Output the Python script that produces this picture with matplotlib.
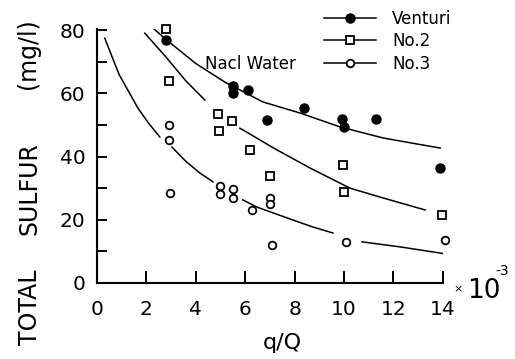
import numpy as np
import matplotlib
matplotlib.use('Agg')
import matplotlib.pyplot as plt
from matplotlib.lines import Line2D

# measured points (q/Q in 1e-3, total sulfur mg/l)
venturi_x = [2.8, 5.5, 5.5, 6.1, 6.9, 8.4, 9.9, 10.0, 11.3, 13.9]
venturi_y = [77, 62.5, 60, 61, 51.5, 55.5, 52, 49.5, 52, 36.5]

no2_x = [2.8, 2.9, 4.9, 4.95, 5.45, 6.2, 7.0, 9.95, 10.0, 13.95]
no2_y = [80.5, 64, 53.5, 48, 51.3, 42, 33.7, 37.3, 28.8, 21.5]

no3_x = [2.9, 2.9, 2.95, 4.98, 4.98, 5.5, 5.5, 6.28, 7.0, 7.0, 7.1, 10.1, 14.1]
no3_y = [50, 45.3, 28.5, 30.7, 28.2, 29.7, 26.9, 23.1, 26.9, 25, 12, 13, 13.6]

# fitted curves as drawn (NaN = gap in the line)
curve1_x = [1.86, 2.83, 4.0, 5.18, 6.72, 8.22, 9.84, 11.58, 13.89]
curve1_y = [83.5, 76.9, 69.5, 63.6, 57.3, 53.8, 49.4, 45.9, 42.7]

curve2_x = [1.94, 2.8, 3.6, 4.37, np.nan, 5.79, 7.2, 8.62, 9.43, 10.24, 11.58, 13.28]
curve2_y = [79.1, 71.5, 64.0, 57.9, np.nan, 49.0, 42.5, 36.4, 33.2, 30.0, 26.9, 23.1]

curve3_x = [0.32, 0.9, 1.66, 2.1, 2.55, np.nan, 3.04, 3.6, 4.17, 4.7, np.nan,
            5.9, 6.48, 7.94, 8.7, 9.55, np.nan, 10.73, 12.27, 14.1]
curve3_y = [77.5, 66.0, 55.4, 50.5, 46.2, np.nan, 43.0, 38.5, 34.8, 32.0, np.nan,
            26.3, 24.0, 19.9, 17.8, 15.8, np.nan, 13.0, 11.4, 9.2]

xticks = [0, 2, 4, 6, 8, 10, 12, 14]
yticks = [0, 10, 20, 30, 40, 50, 60, 70, 80]
ytick_labels = ['0', '', '20', '', '40', '', '60', '', '80']

fig = plt.figure(figsize=(5.15, 3.59), dpi=100)
ax = fig.add_axes([0.188, 0.212, 0.672, 0.708])

lw = 1.1
ax.plot(curve1_x, curve1_y, color='black', lw=lw, zorder=2)
ax.plot(curve2_x, curve2_y, color='black', lw=lw, zorder=2)
ax.plot(curve3_x, curve3_y, color='black', lw=lw, zorder=2)

ax.plot(venturi_x, venturi_y, 'o', ms=6.5, mfc='black', mec='black', clip_on=False, zorder=3)
ax.plot(no2_x, no2_y, 's', ms=5.5, mfc='white', mec='black', mew=1.3, clip_on=False, zorder=3)
ax.plot(no3_x, no3_y, 'o', ms=5.5, mfc='white', mec='black', mew=1.3, clip_on=False, zorder=3)

ax.set_xlim(0, 14)
ax.set_ylim(0, 80.5)
for s in ['top', 'right']:
    ax.spines[s].set_visible(False)
for s in ['left', 'bottom']:
    ax.spines[s].set_linewidth(1.5)

ax.set_xticks(xticks)
ax.set_xticklabels([str(t) for t in xticks])
ax.set_yticks(yticks)
ax.set_yticklabels(ytick_labels)
ax.tick_params(axis='both', direction='in', labelsize=14.5, width=1.4, pad=8)
ax.tick_params(axis='x', length=9, pad=12)
ax.tick_params(axis='y', length=7)

ax.text(0.535, -0.235, 'q/Q', transform=ax.transAxes, ha='center', va='center', fontsize=16)

# y label pieces
fig.text(0.058, 0.145, 'TOTAL', rotation=90, ha='center', va='center', fontsize=17)
fig.text(0.058, 0.475, 'SULFUR', rotation=90, ha='center', va='center', fontsize=17)
fig.text(0.055, 0.85, '(mg/l)', rotation=90, ha='center', va='center', fontsize=17)

# x10^-3 multiplier
fig.text(0.889, 0.195, '×', ha='center', va='center', fontsize=8)
fig.text(0.94, 0.19, '10', ha='center', va='center', fontsize=19)
fig.text(0.976, 0.245, '-3', ha='center', va='center', fontsize=10)

ax.text(0.445, 0.86, 'Nacl Water', transform=ax.transAxes, ha='center', va='center', fontsize=12)

handles = [
    Line2D([], [], color='black', lw=lw, marker='o', ms=6.5, mfc='black', mec='black'),
    Line2D([], [], color='black', lw=lw, marker='s', ms=5.5, mfc='white', mec='black', mew=1.3),
    Line2D([], [], color='black', lw=lw, marker='o', ms=5.5, mfc='white', mec='black', mew=1.3),
]
ax.legend(handles, ['Venturi', 'No.2', 'No.3'], loc='upper left',
          bbox_to_anchor=(0.656, 1.075), frameon=False, fontsize=12,
          handlelength=3.1, handletextpad=1.0, labelspacing=0.28,
          borderaxespad=0, borderpad=0)

fig.savefig('out.png', dpi=100)
